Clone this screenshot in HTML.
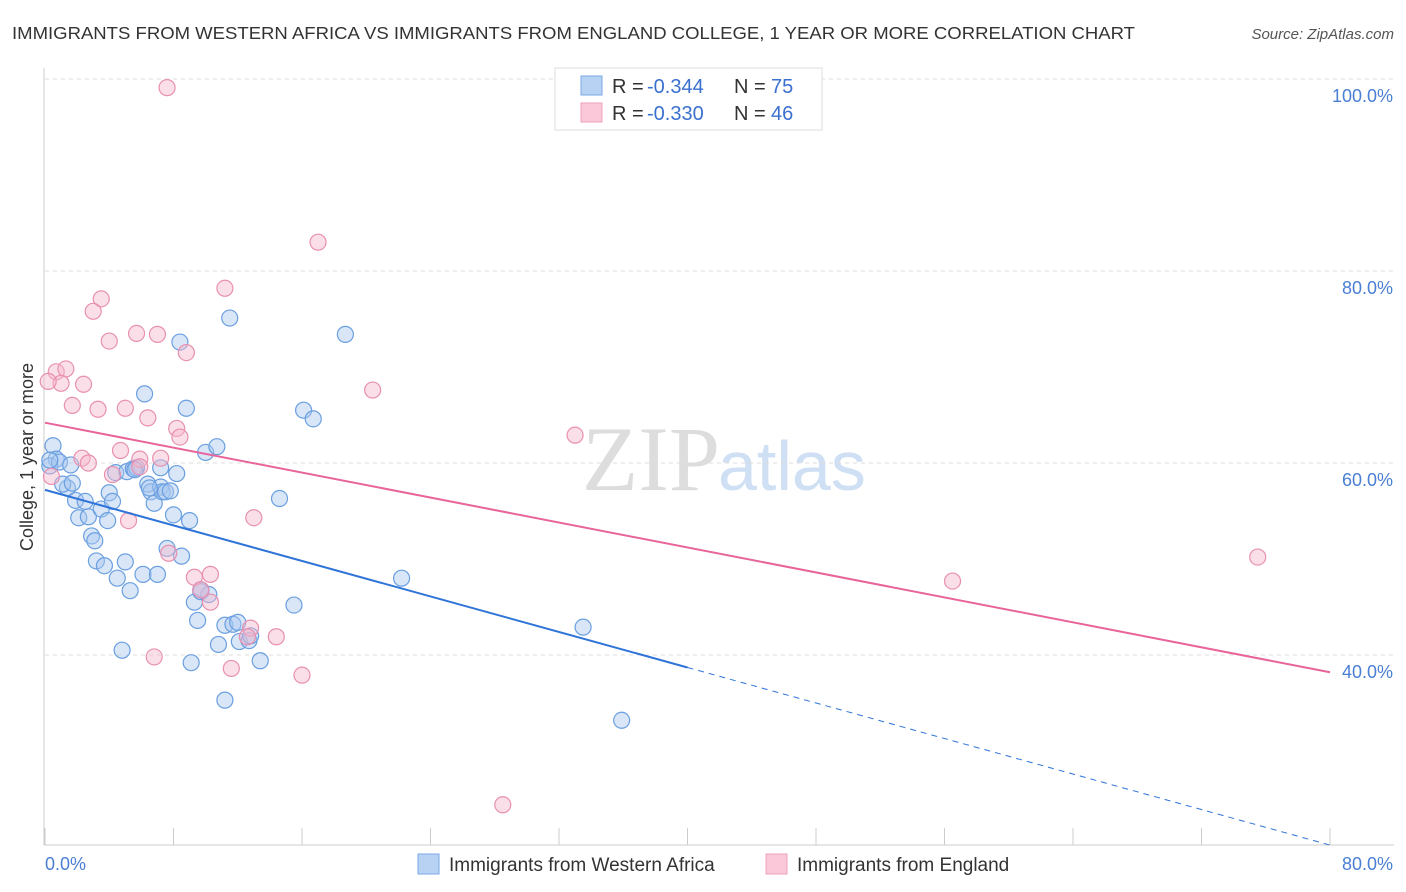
<!DOCTYPE html>
<html><head><meta charset="utf-8"><style>
body{margin:0;width:1406px;height:892px;background:#fff;font-family:"Liberation Sans",sans-serif;overflow:hidden}
</style></head><body>
<svg id="chart" width="1406" height="892" style="position:absolute;left:0;top:0">
<text x="12" y="39" font-size="17.5" fill="#333" textLength="1123" lengthAdjust="spacingAndGlyphs">IMMIGRANTS FROM WESTERN AFRICA VS IMMIGRANTS FROM ENGLAND COLLEGE, 1 YEAR OR MORE CORRELATION CHART</text>
<text x="1394" y="39" font-size="15" fill="#555" font-style="italic" text-anchor="end">Source: ZipAtlas.com</text>
<text x="720" y="490" font-size="92" fill="#ddd" text-anchor="end" font-family="Liberation Serif">ZIP</text>
<text x="718" y="490" font-size="70" fill="#cfe0f4">atlas</text>
<g id="grid"></g>
<g id="marks"></g>
<text transform="translate(33,457) rotate(-90)" font-size="18" fill="#333" text-anchor="middle">College, 1 year or more</text>
<text x="45" y="870" font-size="18" fill="#4a7fd4">0.0%</text>
<text x="1393" y="870" font-size="18" fill="#4a7fd4" text-anchor="end">80.0%</text>
<g>
<rect x="555" y="68" width="267" height="62" fill="#fff" stroke="#ddd"/>
<rect x="581" y="76" width="21" height="19" fill="#b8d2f4" stroke="#7aa8e4"/>
<rect x="581" y="103" width="21" height="19" fill="#fac8d8" stroke="#eea0bc"/>
<text x="612" y="93" font-size="20" fill="#333">R =</text>
<text x="647" y="93" font-size="20" fill="#3a70d0">-0.344</text>
<text x="734" y="93" font-size="20" fill="#333">N =</text>
<text x="771" y="93" font-size="20" fill="#3a70d0">75</text>
<text x="612" y="120" font-size="20" fill="#333">R =</text>
<text x="647" y="120" font-size="20" fill="#3a70d0">-0.330</text>
<text x="734" y="120" font-size="20" fill="#333">N =</text>
<text x="771" y="120" font-size="20" fill="#3a70d0">46</text>
</g>
<g>
<rect x="418" y="854" width="21" height="20" fill="#b8d2f4" stroke="#7aa8e4"/>
<text x="449" y="871" font-size="19" fill="#333">Immigrants from Western Africa</text>
<rect x="766" y="854" width="21" height="20" fill="#fac8d8" stroke="#eea0bc"/>
<text x="797" y="871" font-size="19" fill="#333">Immigrants from England</text>
</g>
</svg>
<script>
const yTicks=[100,80,60,40];
const xTickCount=10;
const blueX=[0.5,0.7,0.3,0.9,1.6,1.4,1.1,1.7,1.9,2.1,2.7,2.5,2.9,3.1,3.2,3.7,3.5,4.0,3.9,4.2,4.4,4.5,5.0,5.3,4.8,5.1,5.5,5.7,6.1,6.2,6.4,6.6,6.8,7.0,7.2,7.3,7.5,7.8,7.6,8.0,8.2,8.4,8.5,8.8,9.0,9.1,9.3,9.5,9.7,10.2,10.0,10.7,10.8,11.2,11.5,11.7,12.0,12.1,12.7,12.8,13.4,11.2,14.6,15.5,16.1,16.7,18.7,22.2,33.5,35.9,0.3,7.2,5.6,6.5,9.7];
const blueY=[61.8,60.4,59.7,60.1,59.8,57.4,57.8,57.9,56.1,54.3,54.4,56.0,52.4,51.9,49.8,49.3,55.2,56.9,54.0,56.0,59.0,48.0,49.7,46.7,40.5,59.1,59.4,59.5,48.4,67.2,57.8,57.0,55.8,48.4,57.5,57.0,57.0,57.1,51.1,54.6,58.9,72.6,50.3,65.7,54.0,39.2,45.5,43.6,46.6,46.3,61.1,61.7,41.1,43.1,75.1,43.2,43.4,41.4,41.5,42.0,39.4,35.3,56.3,45.2,65.5,64.6,73.4,48.0,42.9,33.2,60.3,59.5,59.3,57.4,46.8];
const pinkX=[7.6,17.0,11.2,3.5,3.0,4.0,5.7,7.0,8.8,0.7,1.3,1.0,0.2,2.4,1.7,3.3,5.0,6.4,8.2,8.4,4.7,5.9,7.2,2.3,2.7,4.2,20.4,33.0,5.9,13.0,5.2,7.7,9.3,10.3,9.7,10.3,12.8,12.6,14.4,6.8,11.6,16.0,28.5,56.5,75.5,0.4];
const pinkY=[99.1,83.0,78.2,77.1,75.8,72.7,73.5,73.4,71.5,69.5,69.8,68.3,68.5,68.2,66.0,65.6,65.7,64.7,63.6,62.7,61.3,60.4,60.5,60.5,60.0,58.8,67.6,62.9,59.6,54.3,54.0,50.6,48.1,48.4,46.8,45.5,42.8,41.9,41.9,39.8,38.6,37.9,24.4,47.7,50.2,58.6];
const blueTrend=[57.2,20.2];
const blueSolidEnd=40;
const pinkTrend=[64.2,38.2];
const xMax=80;
const sx=v=>45+v/xMax*1285;
const sy=v=>79+(100-v)*9.6;
const NS='http://www.w3.org/2000/svg';
const grid=document.getElementById('grid'),marks=document.getElementById('marks');
function mk(tag,attrs,parent){const e=document.createElementNS(NS,tag);for(const k in attrs)e.setAttribute(k,attrs[k]);parent.appendChild(e);return e;}
yTicks.forEach(t=>{
 const l=mk('line',{x1:45,x2:1394,y1:sy(t),y2:sy(t),stroke:'#ddd','stroke-dasharray':'4,4'},grid);
 
 
 const tx=mk('text',{x:1393,y:sy(t)+23,'font-size':18,fill:'#4a7fd4','text-anchor':'end'},grid);
 tx.textContent=t.toFixed(1)+'%';
 
 
});
const ax=mk('line',{x1:44,x2:44,y1:68,y2:845,stroke:'#ccc'},grid);


const bx=mk('line',{x1:44,x2:1394,y1:845,y2:845,stroke:'#ccc'},grid);


for(let i=0;i<=xTickCount;i++){const v=i*xMax/xTickCount;
 const t=mk('line',{x1:sx(v),x2:sx(v),y1:828,y2:845,stroke:'#ccc'},grid);
 
 
}
function pts(xs,ys,fill,stroke,name){xs.forEach((x,i)=>{
 const c=mk('circle',{cx:sx(x),cy:sy(ys[i]),r:8,fill:fill,'fill-opacity':0.45,stroke:stroke,'stroke-width':1.2},marks);
 
 
});}
pts(blueX,blueY,'#a8c8f0','#6a9fe0','western-africa-point');
pts(pinkX,pinkY,'#f6b8cc','#e890b0','england-point');
const bAt=x=>blueTrend[0]+(blueTrend[1]-blueTrend[0])*x/xMax;
const b1=mk('line',{x1:sx(0),y1:sy(bAt(0)),x2:sx(blueSolidEnd),y2:sy(bAt(blueSolidEnd)),stroke:'#2f74d8','stroke-width':2},marks);


const b2=mk('line',{x1:sx(blueSolidEnd),y1:sy(bAt(blueSolidEnd)),x2:sx(xMax),y2:sy(bAt(xMax)),stroke:'#2f74d8','stroke-width':1,'stroke-dasharray':'6,5'},marks);


const p1=mk('line',{x1:sx(0),y1:sy(pinkTrend[0]),x2:sx(xMax),y2:sy(pinkTrend[1]),stroke:'#e8649a','stroke-width':2},marks);


</script>
</body></html>
